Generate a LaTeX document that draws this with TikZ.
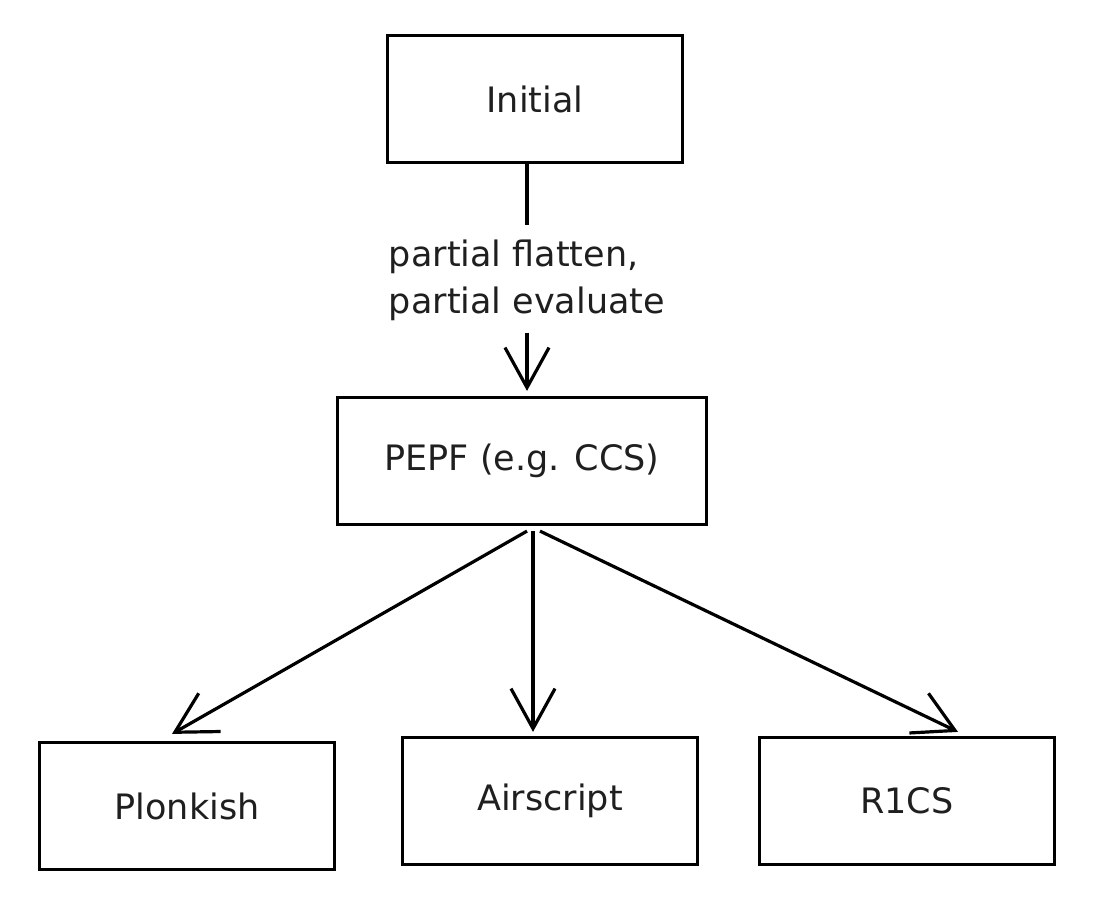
\documentclass[tikz,border=0pt]{standalone}
\usepackage{fontspec}
\setmainfont{DejaVu Sans}
\usetikzlibrary{arrows.meta}
\begin{document}
\begin{tikzpicture}[x=1pt,y=-1pt,
 txt/.style={font=\fontsize{35}{47}\selectfont, text=black!88},
 box/.style={draw, line width=3.2pt, minimum width=295pt, minimum height=127pt, txt},
 conn/.style={line width=3.2pt, -{Straight Barb[length=40pt,width=44pt,line width=3.2pt]}}]
\useasboundingbox[fill=white] (0,0) rectangle (1104,902);
\node[box] (init) at (535,99) {Initial};
\node[box, minimum width=369pt] (pepf) at (522,461) {PEPF (e.g. CCS)};
\node[box] (plonk) at (187,806) {Plonkish};
\node[box] (air) at (550,801) {Airscript};
\node[box] (r1cs) at (907,801) {R1CS};
\node[txt, align=left, inner sep=8pt] (lbl) at (527,280) {partial flatten,\\partial evaluate};
\draw[line width=3.2pt] (init.south -| lbl.north) -- ([yshift=6pt]lbl.north);
\draw[conn] ([yshift=-4pt]lbl.south) -- ([yshift=5pt]lbl.south |- pepf.north);
\draw[conn] ([xshift=5pt,yshift=-5pt]pepf.south) -- ([xshift=-15pt,yshift=7pt]plonk.north);
\draw[conn] ([xshift=11pt,yshift=-5pt]pepf.south) -- ([xshift=-17pt,yshift=4pt]air.north);
\draw[conn] ([xshift=18pt,yshift=-5pt]pepf.south) -- ([xshift=51pt,yshift=4pt]r1cs.north);
\end{tikzpicture}
\end{document}
